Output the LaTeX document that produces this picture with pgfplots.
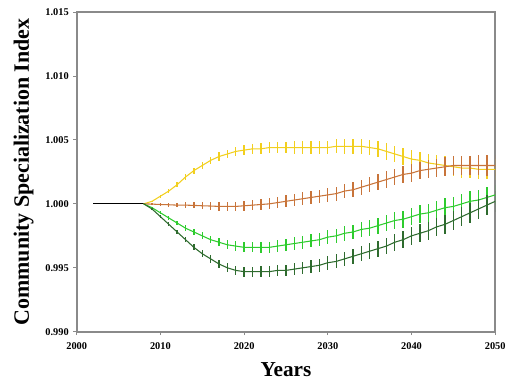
\documentclass[border=0pt]{standalone}
\usepackage{pgfplots}
\pgfplotsset{compat=1.18}
\usepackage{pgfplotstable}
\usepackage{fontspec}
\setmainfont{Liberation Serif}
\usetikzlibrary{calc}
\definecolor{cyel}{HTML}{F2CF1E}
\definecolor{corg}{HTML}{C8743A}
\definecolor{clgr}{HTML}{2ECC2E}
\definecolor{cdgr}{HTML}{2E6B2E}
\definecolor{axgray}{HTML}{8A8A8A}
\pgfplotstableread{
year y o lg dg e
2008 1.0000 1.00000 1.0000 1.0000 0
2009 1.0002 0.99998 0.9997 0.9996 0.00006
2010 1.0006 0.99995 0.9993 0.9990 0.00011
2011 1.0010 0.99993 0.9989 0.9984 0.00015
2012 1.0015 0.99990 0.9985 0.9978 0.00018
2013 1.0021 0.99990 0.9981 0.9972 0.00022
2014 1.0026 0.99988 0.9978 0.9966 0.00024
2015 1.0030 0.99985 0.9975 0.9961 0.00027
2016 1.0034 0.99983 0.9972 0.9957 0.00029
2017 1.0037 0.99980 0.9970 0.9953 0.00032
2018 1.0039 0.99980 0.9968 0.9950 0.00034
2019 1.0041 0.99980 0.9967 0.9948 0.00036
2020 1.0042 0.99985 0.9966 0.9947 0.00038
2021 1.0043 0.99990 0.9966 0.9947 0.0004
2022 1.0043 0.99995 0.9966 0.9947 0.00042
2023 1.0044 1.00000 0.9966 0.9947 0.00043
2024 1.0044 1.00010 0.9967 0.9948 0.00045
2025 1.0044 1.00020 0.9968 0.9948 0.00046
2026 1.0044 1.00030 0.9969 0.9949 0.00048
2027 1.0044 1.00040 0.9970 0.9950 0.00049
2028 1.0044 1.00050 0.9971 0.9951 0.00051
2029 1.0044 1.00060 0.9972 0.9952 0.00052
2030 1.0044 1.00070 0.9974 0.9954 0.00054
2031 1.0045 1.00080 0.9975 0.9955 0.00055
2032 1.0045 1.00100 0.9977 0.9957 0.00057
2033 1.0045 1.00110 0.9978 0.9959 0.00058
2034 1.0045 1.00130 0.9980 0.9961 0.0006
2035 1.0044 1.00150 0.9981 0.9963 0.00061
2036 1.0043 1.00170 0.9983 0.9965 0.00062
2037 1.0041 1.00190 0.9985 0.9967 0.00064
2038 1.0039 1.00210 0.9987 0.9970 0.00065
2039 1.0037 1.00230 0.9988 0.9972 0.00066
2040 1.0035 1.00240 0.9990 0.9975 0.00068
2041 1.0034 1.00260 0.9992 0.9977 0.00069
2042 1.0032 1.00270 0.9993 0.9979 0.0007
2043 1.0031 1.00280 0.9995 0.9982 0.00072
2044 1.0030 1.00290 0.9997 0.9984 0.00073
2045 1.0029 1.00300 0.9998 0.9987 0.00074
2046 1.0028 1.00300 1.0000 0.9990 0.00075
2047 1.0028 1.00300 1.0002 0.9993 0.00077
2048 1.0027 1.00300 1.0003 0.9996 0.00078
2049 1.0027 1.00300 1.0005 0.9999 0.00079
2050 1.0027 1.00300 1.0007 1.0002 0.0008
}\data
\begin{document}
\begin{tikzpicture}
\begin{axis}[
  scale only axis,
  width=315pt, height=240.75pt,
  xmin=2000, xmax=2050, ymin=0.990, ymax=1.015,
  xtick={2000,2010,...,2050},
  ytick={0.990,0.995,1.000,1.005,1.010,1.015},
  xtick pos=left, ytick pos=left,
  tick align=outside,
  major tick length=2.5pt,
  axis line style={axgray, line width=1.2pt},
  every tick/.style={axgray, line width=0.6pt},
  /pgf/number format/assume math mode=true,
  xticklabel style={/pgf/number format/1000 sep={}, font=\fontsize{7.8}{9}\selectfont\bfseries, yshift=-2pt},
  yticklabel style={/pgf/number format/.cd, fixed, fixed zerofill, precision=3, 1000 sep={}, /tikz/.cd, font=\fontsize{7.8}{9}\selectfont\bfseries},
  scaled y ticks=false,
  xlabel={Years},
  ylabel={Community Specialization Index},
  xlabel style={font=\fontsize{16}{18}\selectfont\bfseries, yshift=-3pt},
  ylabel style={font=\fontsize{16.5}{18}\selectfont\bfseries, yshift=2pt},
  error bars/y dir=both, error bars/y explicit,
  error bars/error mark=none,
]
\addplot[black, line width=0.9pt, forget plot, error bars/y dir=none] coordinates {(2002,1.000) (2008,1.000)};
\addplot[cyel, line width=0.8pt, error bars/error bar style={cyel, line width=1pt}] table[x=year, y=y, y error=e] {\data};
\addplot[corg, line width=0.8pt, error bars/error bar style={corg, line width=1pt}] table[x=year, y=o, y error=e] {\data};
\addplot[clgr, line width=0.8pt, error bars/error bar style={clgr, line width=1pt}] table[x=year, y=lg, y error=e] {\data};
\addplot[cdgr, line width=0.8pt, error bars/error bar style={cdgr, line width=1pt}] table[x=year, y=dg, y error=e] {\data};
\end{axis}
\path[use as bounding box] ($(current axis.south west)+(-57.75pt,-40.5pt)$) rectangle ($(current axis.north east)+(9.75pt,9pt)$);
\end{tikzpicture}
\end{document}
